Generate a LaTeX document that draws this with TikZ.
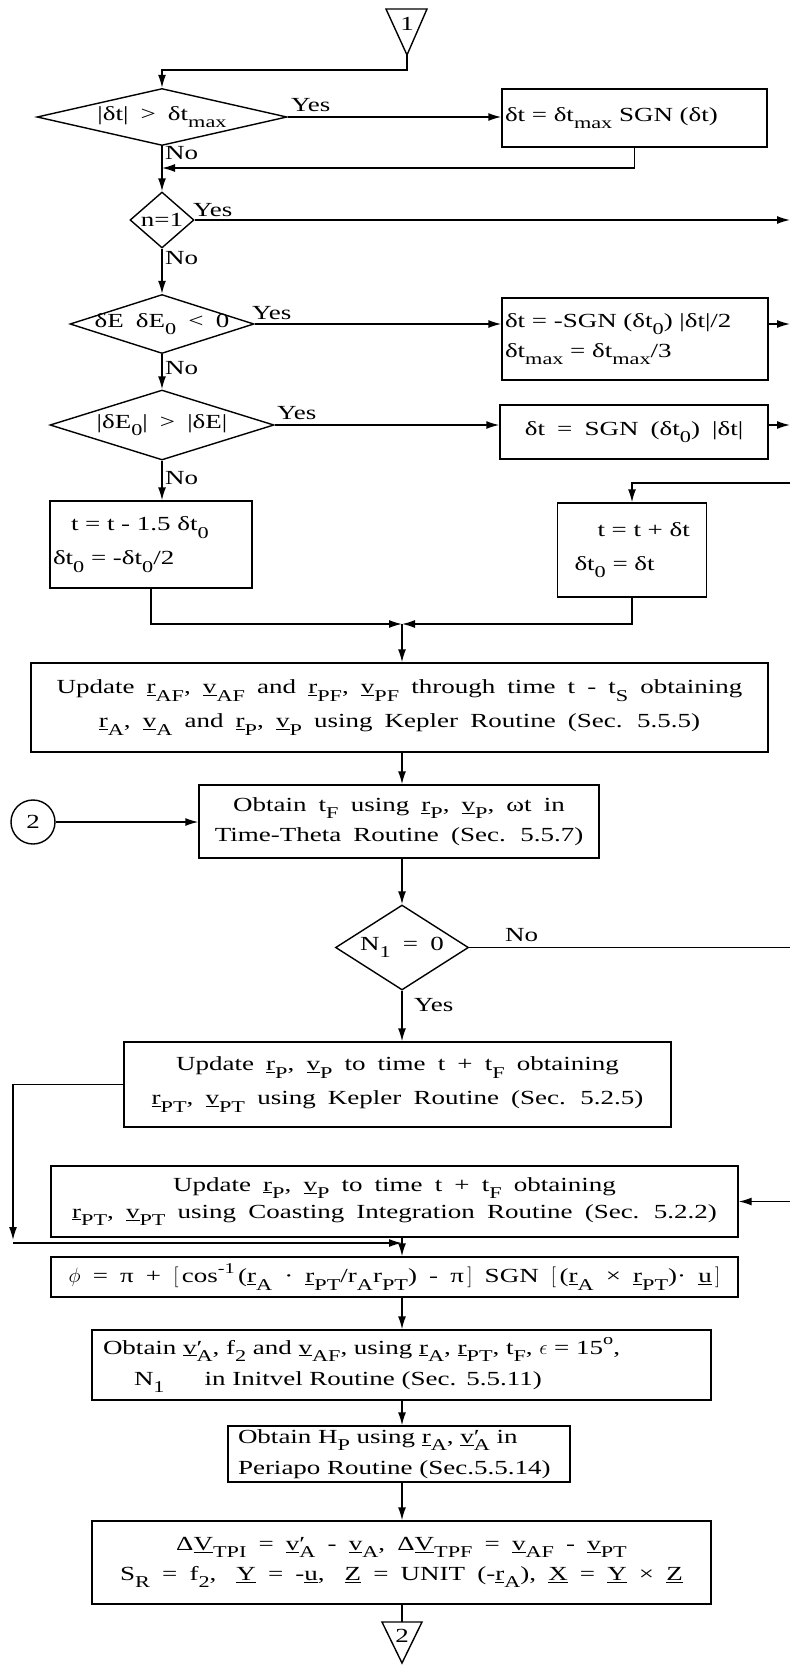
\documentclass[tikz,border=0pt]{standalone}
\usepackage{fontspec}
\setmainfont{Liberation Serif}[FakeStretch=1.35,WordSpace=1.8]
\usetikzlibrary{shapes.geometric,arrows.meta,calc}

% typewriter-style sub/superscripts and underlined vectors
\newcommand\fs{\fontsize{20}{24}\selectfont}
\newcommand\sbs[1]{\raisebox{-0.38em}{\fontsize{16.5}{16.5}\selectfont #1}}
\newcommand\sps[1]{\raisebox{0.48em}{\fontsize{15}{15}\selectfont #1}}
\newcommand\ub[1]{\underline{#1}}
\newcommand\vpr{\ub{v}\rlap{′}}

\tikzset{
  box/.style={draw, line width=1.4pt, inner sep=0pt, align=center, font=\fs},
  dia/.style={draw, diamond, line width=1.4pt, inner sep=0pt},
  lbl/.style={font=\fs, inner sep=0pt},
  ln/.style={line width=1.4pt},
  arr/.style={line width=1.4pt, -{Latex[length=13pt,width=8pt]}},
}

\begin{document}
\begin{tikzpicture}[x=1pt,y=-1pt]
\useasboundingbox (0,0) rectangle (792,1665);

% off-page connector 1
\draw[ln] (386,9) -- (427,9) -- (407,55) -- cycle;
\coordinate (t1) at (407,55);
\node[lbl] (t1t) at (407,24) {1};

% left column of tests
\node[dia, minimum width=250, minimum height=57] (d1) at (162,117) {};
\node[lbl] (d1t) at (d1) {|δt| > δt\sbs{max}};
\node[dia, minimum width=64, minimum height=56] (d2) at (162,220) {};
\node[lbl] (d2t) at (d2) {n=1};
\node[dia, minimum width=184, minimum height=59] (d3) at (162,324) {};
\node[lbl] (d3t) at (d3) {δE δE\sbs{0} < 0};
\node[dia, minimum width=224, minimum height=70] (d4) at (162,425) {};
\node[lbl] (d4t) at (d4) {|δE\sbs{0}| > |δE|};

% step adjustments
\node[box, minimum width=265, minimum height=58, text width=259, align=left] (b1) at (634.5,118)
  {δt = δt\sbs{max}\ SGN (δt)};
\node[box, minimum width=266, minimum height=82, text width=260, align=left] (b2) at (635,339)
  {δt = -SGN (δt\sbs{0}) |δt|/2\\[6pt]δt\sbs{max} = δt\sbs{max}/3};
\node[box, minimum width=268, minimum height=54] (b3) at (634,432)
  {δt = SGN (δt\sbs{0}) |δt|};
\node[box, minimum width=202, minimum height=87, text width=196, align=left] (b4) at (151,544.5)
  {\hspace*{18pt}t = t - 1.5 δt\sbs{0}\\[10pt]δt\sbs{0} = -δt\sbs{0}/2};
\node[box, minimum width=149, minimum height=94, text width=143, align=left] (b5) at (632,550)
  {\hspace*{37pt}t = t + δt\\[10pt]\hspace*{14pt}δt\sbs{0} = δt};

% main column
\node[box, minimum width=737, minimum height=89] (b6) at (399.5,707.5)
  {Update \ub{r}\sbs{AF}, \ub{v}\sbs{AF} and \ub{r}\sbs{PF}, \ub{v}\sbs{PF} through time t - t\sbs{S} obtaining\\[10pt]
   \ub{r}\sbs{A}, \ub{v}\sbs{A} and \ub{r}\sbs{P}, \ub{v}\sbs{P} using Kepler Routine (Sec. 5.5.5)};
\node[box, minimum width=400, minimum height=73] (b7) at (399,821.5)
  {Obtain t\sbs{F} using \ub{r}\sbs{P}, \ub{v}\sbs{P}, ωt in\\[6pt]Time-Theta Routine (Sec. 5.5.7)};
\node[draw, circle, line width=1.4pt, minimum size=44, inner sep=0pt, font=\fs] (c2) at (33,822) {2};
\node[dia, minimum width=133, minimum height=85] (d5) at (402,947.5) {};
\node[lbl] (d5t) at (d5) {N\sbs{1} = 0};
\node[box, minimum width=547, minimum height=85] (b8) at (397.5,1084.5)
  {Update \ub{r}\sbs{P}, \ub{v}\sbs{P} to time t + t\sbs{F} obtaining\\[10pt]
   \ub{r}\sbs{PT}, \ub{v}\sbs{PT} using Kepler Routine (Sec. 5.2.5)};
\node[box, minimum width=687, minimum height=71] (b9) at (394.5,1201.5)
  {Update \ub{r}\sbs{P}, \ub{v}\sbs{P} to time t + t\sbs{F} obtaining\\[3pt]
   \ub{r}\sbs{PT}, \ub{v}\sbs{PT} using Coasting Integration Routine (Sec. 5.2.2)};
\node[box, minimum width=687, minimum height=40] (b10) at (394.5,1277)
  {$\phi$ = π + $\Bigl[\,$cos\sps{-1}\,(\ub{r}\sbs{A} · \ub{r}\sbs{PT}/r\sbs{A}r\sbs{PT}) - π$\,\Bigr]$ SGN $\Bigl[\,$(\ub{r}\sbs{A} × \ub{r}\sbs{PT})· \ub{u}$\,\Bigr]$};
\node[box, minimum width=619, minimum height=70, text width=597, align=left] (b11) at (401.5,1365)
  {Obtain \vpr\sbs{A}, f\sbs{2} and \ub{v}\sbs{AF}, using \ub{r}\sbs{A}, \ub{r}\sbs{PT}, t\sbs{F}, $\epsilon$ = 15\sps{o},\\[7pt]
   \hspace*{31pt}N\sbs{1}\hspace*{40pt}in Initvel Routine (Sec. 5.5.11)};
\node[box, minimum width=342, minimum height=56, text width=322, align=left] (b12) at (399,1454)
  {Obtain H\sbs{P} using \ub{r}\sbs{A}, \vpr\sbs{A} in\\[7pt]Periapo Routine (Sec.5.5.14)};
\node[box, minimum width=619, minimum height=83] (b13) at (401.5,1562.5)
  {Δ\ub{V}\sbs{TPI} = \vpr\sbs{A} - \ub{v}\sbs{A}, Δ\ub{V}\sbs{TPF} = \ub{v}\sbs{AF} - \ub{v}\sbs{PT}\\[6pt]
   S\sbs{R} = f\sbs{2},\quad \ub{Y} = -\ub{u},\quad \ub{Z} = UNIT (-\ub{r}\sbs{A}),\ \ub{X} = \ub{Y} × \ub{Z}};

% off-page connector 2
\draw[ln] (382,1622) -- (422,1622) -- (402,1663) -- cycle;
\coordinate (t2) at (402,1622);
\node[lbl] (t2t) at (402,1636) {2};

% helper points
\coordinate (col) at (402,0);
\coordinate (j0) at (162,70);
\coordinate (m1) at (162,168);
\coordinate (e2) at (790,220);
\coordinate (e3) at (790,324);
\coordinate (e4) at (790,425);
\coordinate (e5) at (790,483);
\coordinate (jn1) at (402,624);
\coordinate (e6) at (790,947.5);
\coordinate (e7) at (790,1201.5);
\coordinate (lf) at (13,1240);
\coordinate (lf2) at (13,1243);
\coordinate (jn2) at (402,1243);

% connectors, top part
\draw[arr] (t1) |- (j0) -- (d1.north);
\draw[arr] (d1.east) -- (b1.west |- d1.east);
\draw[arr] (b1.south) |- (m1);
\draw[arr] (d1.south) -- (d2.north);
\draw[arr] (d2.east) -- (e2);
\draw[arr] (d2.south) -- (d3.north);
\draw[arr] (d3.east) -- (b2.west |- d3.east);
\draw[arr] (b2.east |- e3) -- (e3);
\draw[arr] (d3.south) -- (d4.north);
\draw[arr] (d4.east) -- (b3.west |- d4.east);
\draw[arr] (b3.east |- e4) -- (e4);
\draw[arr] (d4.south) -- (b4.north -| d4.south);
\draw[arr] (e5) -| (b5.north);
\draw[arr] (b4.south) |- (jn1);
\draw[arr] (b5.south) |- (jn1);
\draw[arr] (jn1) -- (b6.north -| jn1);

% branch labels
\node[lbl, anchor=south west] (y1) at (291,112) {Yes};
\node[lbl, anchor=west] (n1) at (165,153) {No};
\node[lbl, anchor=west] (y2) at (193,210) {Yes};
\node[lbl, anchor=west] (n2) at (165,258) {No};
\node[lbl, anchor=west] (y3) at (252,313) {Yes};
\node[lbl, anchor=west] (n3) at (165,368) {No};
\node[lbl, anchor=west] (y4) at (277,413) {Yes};
\node[lbl, anchor=west] (n4) at (165,478) {No};
\node[lbl, anchor=west] (n5) at (505,935) {No};
\node[lbl, anchor=west] (y5) at (414,1005) {Yes};

% connectors, main column
\draw[arr] (b6.south -| col) -- (b7.north -| col);
\draw[arr] (c2) -- (b7.west |- c2);
\draw[arr] (b7.south -| col) -- (d5.north);
\draw[ln] (d5.east) -- (e6);
\draw[arr] (d5.south) -- (b8.north -| d5.south);
\draw[arr] (b8.west) -| (lf);
\draw[arr] (e7) -- (b9.east);
\draw[ln] (b9.south -| col) -- (jn2);
\draw[arr] (lf2) -- (jn2);
\draw[arr] (jn2) -- (b10.north -| col);
\draw[arr] (b10.south -| col) -- (b11.north -| col);
\draw[arr] (b11.south -| col) -- (b12.north -| col);
\draw[arr] (b12.south -| col) -- (b13.north -| col);
\draw[ln] (b13.south -| col) -- (t2);
\end{tikzpicture}
\end{document}
